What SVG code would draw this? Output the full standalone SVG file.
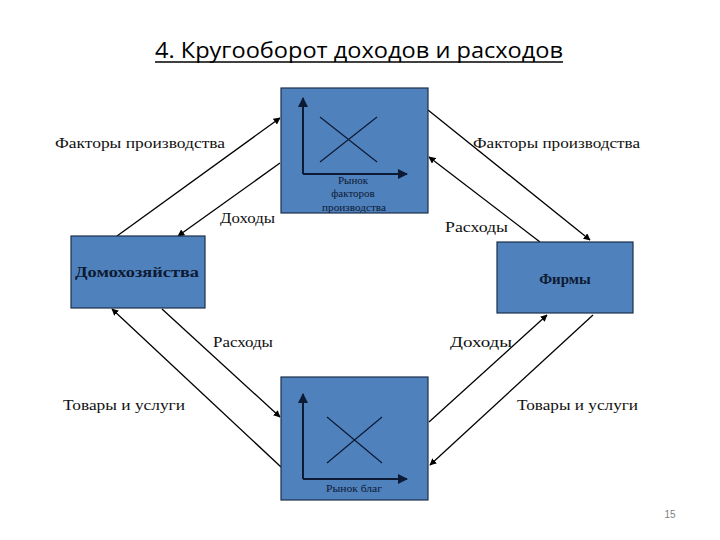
<svg xmlns="http://www.w3.org/2000/svg" width="720" height="540" viewBox="0 0 720 540">
<style>
.box{fill:#4F81BD;stroke:#1c2f4a;stroke-width:1.2}
.lbl{font-family:"Liberation Serif",serif;font-size:15px;fill:#111}
.conn{stroke:#000;stroke-width:1.3;fill:none;marker-end:url(#ah)}
.ax{stroke:#0d1a33;stroke-width:2;fill:none;marker-end:url(#axh)}
.xl{stroke:#0d1a33;stroke-width:1.2}
.small{font-family:"Liberation Serif",serif;font-size:11px;fill:#0d1a33;text-anchor:middle}
.big{font-family:"Liberation Serif",serif;font-size:15px;font-weight:bold;fill:#0d1a33;text-anchor:middle}
</style>
<defs>
<marker id="ah" viewBox="0 0 10 10" refX="9" refY="5" markerWidth="7" markerHeight="7" markerUnits="userSpaceOnUse" orient="auto"><path d="M0,0 L10,5 L0,10 z" fill="#000"/></marker>
<marker id="axh" viewBox="0 0 10 10" refX="9" refY="5" markerWidth="5" markerHeight="5" orient="auto"><path d="M0,0 L10,5 L0,10 z" fill="#0d1a33"/></marker>
</defs>
<rect width="720" height="540" fill="#fff"/>
<g id="title">
<text x="155" y="58" font-family="'Open Sans','Liberation Sans',sans-serif" font-size="21" fill="#000" textLength="408" lengthAdjust="spacingAndGlyphs">4. Кругооборот доходов и расходов</text>
<line x1="155" y1="62" x2="563" y2="62" stroke="#000" stroke-width="1.3"/>
</g>
<g id="connectors">
<line class="conn" x1="117" y1="236" x2="280" y2="118"/>
<line class="conn" x1="280" y1="163" x2="178" y2="236"/>
<line class="conn" x1="428" y1="110" x2="590" y2="240"/>
<line class="conn" x1="540" y1="242" x2="429" y2="157"/>
<line class="conn" x1="281" y1="467" x2="112" y2="309"/>
<line class="conn" x1="162" y1="309" x2="280" y2="417"/>
<line class="conn" x1="429" y1="422" x2="547" y2="315"/>
<line class="conn" x1="593" y1="315" x2="430" y2="465"/>
</g>
<g id="market-factors">
<rect class="box" x="281" y="88" width="147" height="125"/>
<line class="ax" x1="303" y1="174" x2="303" y2="98"/>
<line class="ax" x1="303" y1="174" x2="407" y2="174"/>
<line class="xl" x1="320" y1="117" x2="377" y2="162"/>
<line class="xl" x1="320" y1="162" x2="377" y2="117"/>
<text class="small" x="353" y="184">Рынок</text>
<text class="small" x="353" y="197">факторов</text>
<text class="small" x="354" y="211" textLength="64" lengthAdjust="spacingAndGlyphs">производства</text>
</g>
<g id="market-goods">
<rect class="box" x="281" y="377" width="147" height="123"/>
<line class="ax" x1="303" y1="479" x2="303" y2="394"/>
<line class="ax" x1="303" y1="479" x2="407" y2="479"/>
<line class="xl" x1="327" y1="417" x2="382" y2="463"/>
<line class="xl" x1="327" y1="463" x2="382" y2="417"/>
<text class="small" x="354" y="492" textLength="56" lengthAdjust="spacingAndGlyphs">Рынок благ</text>
</g>
<g id="households">
<rect class="box" x="71" y="236" width="134" height="72"/>
<text class="big" x="137" y="277" textLength="124" lengthAdjust="spacingAndGlyphs">Домохозяйства</text>
</g>
<g id="firms">
<rect class="box" x="497" y="242" width="136" height="71"/>
<text class="big" x="565" y="284">Фирмы</text>
</g>
<g id="labels">
<text class="lbl" x="55" y="148" textLength="170" lengthAdjust="spacingAndGlyphs">Факторы производства</text>
<text class="lbl" x="473" y="148" textLength="167" lengthAdjust="spacingAndGlyphs">Факторы производства</text>
<text class="lbl" x="220" y="223" textLength="55" lengthAdjust="spacingAndGlyphs">Доходы</text>
<text class="lbl" x="445" y="232" textLength="63" lengthAdjust="spacingAndGlyphs">Расходы</text>
<text class="lbl" x="213" y="347" textLength="60" lengthAdjust="spacingAndGlyphs">Расходы</text>
<text class="lbl" x="450" y="347" textLength="62" lengthAdjust="spacingAndGlyphs">Доходы</text>
<text class="lbl" x="63" y="410" textLength="122" lengthAdjust="spacingAndGlyphs">Товары и услуги</text>
<text class="lbl" x="517" y="410" textLength="121" lengthAdjust="spacingAndGlyphs">Товары и услуги</text>
</g>
<g id="page-number">
<text x="670" y="518" font-family="'Liberation Sans',sans-serif" font-size="10" fill="#7f7f7f" text-anchor="middle">15</text>
</g>
</svg>
